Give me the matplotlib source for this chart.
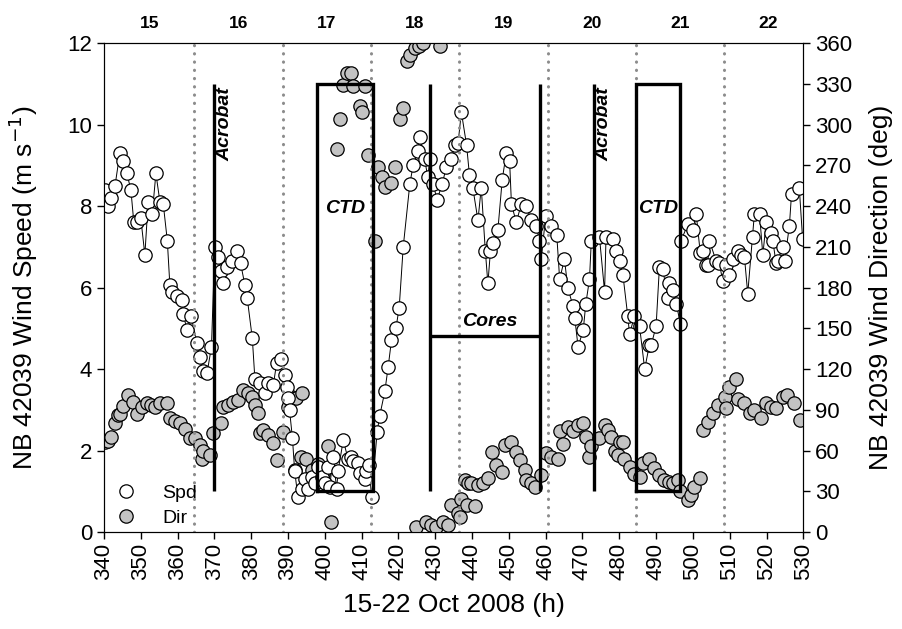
import matplotlib
matplotlib.use("Agg")
import matplotlib.pyplot as plt
from matplotlib.lines import Line2D

plt.rcParams["font.family"] = ["Liberation Sans", "DejaVu Sans"]

# Hourly wind speed at buoy NB 42039 (hour of October 2008, m/s)
spd_hour = [340.3, 341.0, 342.0, 343.0, 344.3, 345.2, 346.2, 347.3, 348.1, 348.9,
            350.0, 351.1, 352.0, 353.1, 354.1, 355.2, 356.1, 357.2, 357.9, 358.6,
            359.9, 361.1, 361.5, 362.6, 363.6, 365.3, 366.1, 367.0, 368.0, 369.2,
            370.1, 371.0, 371.9, 372.4, 373.3, 374.7, 376.0, 377.1, 378.3, 378.9,
            380.3, 381.0, 382.5, 383.7, 384.6, 386.0, 386.9, 388.2, 389.1, 389.6,
            390.0, 390.4, 391.2, 391.8, 392.7, 393.7, 394.6, 395.5, 396.4, 397.3,
            398.2, 399.1, 400.0, 400.9, 401.3, 402.3, 403.2, 403.6, 405.0, 406.3,
            407.0, 407.7, 409.0, 409.6, 410.8, 411.3, 412.0, 412.7, 414.2, 414.9,
            416.3, 417.2, 418.1, 419.3, 420.2, 421.3, 423.1, 424.0, 425.3, 425.8,
            427.1, 428.0, 428.5, 429.4, 430.5, 431.9, 433.0, 434.4, 435.3, 436.2,
            437.1, 438.5, 439.3, 440.2, 441.6, 442.5, 443.6, 444.3, 445.0, 445.7,
            447.0, 448.2, 449.3, 450.2, 450.7, 452.0, 453.4, 454.7, 456.1, 457.5,
            458.3, 458.8, 460.0, 461.5, 463.0, 463.8, 465.1, 466.0, 467.4, 467.9,
            468.8, 470.2, 470.9, 471.9, 472.4, 474.6, 476.0, 476.4, 478.2, 479.2,
            480.1, 481.0, 482.3, 482.8, 484.1, 485.5, 486.9, 488.2, 488.7, 490.0,
            490.9, 491.8, 493.2, 493.6, 494.5, 495.5, 496.6, 496.8, 498.6, 500.0,
            500.9, 502.0, 502.7, 503.6, 504.0, 504.5, 506.3, 507.2, 508.1, 509.0,
            509.9, 511.0, 512.2, 513.0, 514.0, 514.9, 516.2, 516.7, 518.1, 519.0,
            519.9, 521.2, 521.7, 522.6, 523.0, 524.4, 524.9, 526.2, 526.8, 528.9,
            529.8]
spd_value = [8.4, 8.0, 8.2, 8.5, 9.3, 9.1, 8.8, 8.4, 7.6, 7.6,
             7.7, 6.8, 8.1, 7.8, 8.8, 8.1, 8.05, 7.15, 6.05, 5.9,
             5.8, 5.7, 5.35, 4.95, 5.3, 4.65, 4.3, 3.95, 3.9, 4.55,
             7.0, 6.75, 6.4, 6.1, 6.5, 6.65, 6.9, 6.6, 6.05, 5.75,
             4.75, 3.75, 3.65, 3.4, 3.65, 3.6, 4.15, 4.25, 3.85, 3.55,
             3.3, 3.0, 2.3, 1.5, 0.85, 1.05, 1.3, 1.05, 1.35, 1.2,
             1.6, 1.35, 1.2, 1.6, 1.1, 1.85, 1.05, 1.5, 2.25, 1.8,
             1.85, 1.75, 1.7, 1.45, 1.3, 1.5, 1.65, 0.85, 2.45, 2.85,
             3.45, 4.05, 4.7, 5.0, 5.5, 7.0, 8.55, 9.0, 9.35, 9.7,
             9.15, 8.7, 9.15, 8.55, 8.15, 8.55, 8.95, 9.15, 9.5, 9.55,
             10.3, 9.5, 8.75, 8.45, 7.65, 8.45, 6.9, 6.1, 6.9, 7.1,
             7.4, 8.65, 9.3, 9.1, 8.05, 7.6, 8.05, 8.0, 7.65, 7.5,
             7.15, 6.7, 7.75, 7.5, 7.3, 6.2, 6.7, 6.0, 5.55, 5.25,
             4.55, 4.95, 5.6, 6.2, 7.15, 7.25, 5.9, 7.25, 7.2, 6.9,
             6.65, 6.3, 5.3, 4.85, 5.3, 5.05, 4.0, 4.6, 4.6, 5.05,
             6.5, 6.45, 5.75, 6.1, 5.95, 5.6, 5.1, 7.15, 7.55, 7.4,
             7.8, 6.85, 6.9, 6.55, 6.55, 7.15, 6.65, 6.6, 6.15, 6.55,
             6.3, 6.7, 6.9, 6.8, 6.75, 5.85, 7.25, 7.8, 7.8, 6.8,
             7.6, 7.35, 7.15, 6.6, 6.65, 7.0, 6.65, 7.5, 8.3, 8.45,
             7.2]

# Hourly wind direction at the same buoy (deg)
dir_hour = [340.3, 341.0, 342.0, 343.0, 343.8, 344.3, 345.2, 346.6, 348.0, 348.9,
            350.2, 351.6, 352.9, 353.8, 355.2, 357.0, 357.9, 359.3, 360.6, 362.0,
            363.3, 364.7, 366.1, 366.6, 367.0, 368.8, 369.7, 371.9, 372.4, 373.7,
            375.1, 376.5, 377.8, 379.2, 380.1, 381.0, 381.9, 382.4, 383.2, 384.6,
            386.0, 386.9, 388.7, 390.0, 391.0, 392.3, 393.7, 391.8, 393.5, 395.0,
            396.4, 397.3, 398.2, 399.5, 400.9, 401.8, 403.2, 404.1, 405.0, 405.9,
            407.2, 407.7, 409.5, 410.0, 410.8, 411.7, 413.6, 414.5, 415.4, 416.3,
            418.1, 419.0, 420.3, 421.2, 422.2, 423.1, 424.4, 425.5, 426.7, 431.2,
            424.7, 427.6, 428.9, 430.3, 432.1, 433.5, 434.4, 436.2, 436.6, 437.1,
            438.0, 438.5, 438.9, 439.8, 440.7, 441.6, 443.0, 444.3, 445.3, 446.6,
            448.0, 448.9, 450.7, 452.0, 453.0, 454.3, 454.7, 456.1, 457.0, 458.8,
            460.2, 461.5, 463.3, 463.8, 464.7, 466.0, 467.4, 468.8, 470.1, 471.0,
            471.9, 472.4, 474.6, 476.0, 476.9, 477.8, 478.7, 479.6, 480.1, 481.0,
            481.4, 482.8, 484.1, 485.5, 486.4, 488.2, 489.5, 490.9, 492.2, 493.6,
            494.5, 495.9, 496.4, 498.6, 499.6, 500.4, 501.8, 502.7, 504.1, 505.4,
            506.8, 508.6, 509.1, 509.9, 511.7, 512.2, 514.0, 515.4, 516.7, 518.5,
            519.9, 521.2, 522.6, 524.4, 525.7, 527.6, 529.0]
dir_value = [66, 67, 70, 80, 86, 87, 93, 101, 96, 87,
             92, 95, 93.5, 92, 95, 95, 84, 82, 80, 76,
             69, 69, 64, 54, 60, 57, 72.6, 80, 92, 93.5,
             96, 97, 104.5, 102, 99.6, 93.5, 87.4, 72.6, 75, 71.4,
             65.3, 53, 73.8, 92.2, 99.6, 98.4, 102, 45.6, 55.4, 54,
             45.6, 36, 50, 43, 63, 7.6, 282, 304, 329, 338,
             338, 328, 314, 309, 328, 277.5, 214, 269, 261.5, 254,
             256.6, 269, 304, 312, 347, 351, 356, 358, 360, 358,
             4, 7.6, 5, 4, 7.6, 5, 20, 14, 11, 24,
             38, 20, 36, 36, 19, 34.6, 35.8, 39.5, 59, 49,
             44, 64, 66.5, 59, 53, 45.6, 38, 36, 33, 42,
             58, 55, 54, 74, 65, 77.5, 74, 79, 80, 70,
             55.4, 63, 69, 79, 75, 70, 60, 57, 66.5, 66.5,
             54, 48, 43, 40.7, 50.6, 54, 47, 42, 38, 37,
             36, 38, 30, 23.6, 27, 33, 39.5, 75, 81, 87.4,
             93.5, 99.6, 91, 107, 113, 98, 94.7, 87.4, 90, 84,
             94.7, 92, 91, 99.6, 101, 94.7, 82.4]

# Local midnights and day-of-month labels
day_breaks = [364.5, 388.5, 412.5, 436.5, 460.5, 484.5, 508.5]
day_names = ["15", "16", "17", "18", "19", "20", "21", "22"]
day_centres = [352.5, 376.5, 400.5, 424.5, 448.5, 472.5, 496.5, 520.5]

# Sampling operations (hours) drawn in speed units
acrobat_hours = [370.0, 473.0]
ctd_windows = [(398.0, 413.0), (484.5, 496.5)]
cores_window = (428.5, 458.5)
cores_level = 4.8
op_bottom, op_top = 1.0, 11.0

fig = plt.figure(figsize=(9.02, 6.29), dpi=100)
ax = fig.add_axes([0.1153, 0.1542, 0.7753, 0.7774])
ax2 = ax.twinx()

ax.set_xlim(340, 530)
ax.set_ylim(0, 12)
ax2.set_ylim(0, 360)

# day boundaries
for d in day_breaks:
    ax.plot([d, d], [0, 12], color="#8c8c8c", lw=2.2,
            linestyle=(0, (0.1, 2.6)), dash_capstyle="round", zorder=1)
for c, n in zip(day_centres, day_names):
    ax.text(c, 12.3, n, ha="center", va="bottom", fontsize=12.5,
            fontweight="bold")

# operations
for h in acrobat_hours:
    ax.plot([h, h], [op_bottom, op_top], color="black", lw=2.4, zorder=2,
            solid_capstyle="butt")
for a, b in ctd_windows:
    ax.plot([a, a, b, b, a], [op_bottom, op_top, op_top, op_bottom, op_bottom],
            color="black", lw=2.4, zorder=2, solid_joinstyle="miter")
ax.plot([cores_window[0]] * 2, [op_bottom, op_top], color="black", lw=2.4,
        zorder=2, solid_capstyle="butt")
ax.plot([cores_window[1]] * 2, [op_bottom, op_top], color="black", lw=2.4,
        zorder=2, solid_capstyle="butt")
ax.plot(list(cores_window), [cores_level] * 2, color="black", lw=2.4, zorder=2,
        solid_capstyle="butt")

lab = dict(fontsize=14, fontweight="bold", fontstyle="italic", zorder=6)
for h in acrobat_hours:
    ax.text(h + 2.9, 10.0, "Acrobat", rotation=90, ha="center", va="center", **lab)
for a, b in ctd_windows:
    ax.text((a + b) / 2, 7.95, "CTD", ha="center", va="center", **lab)
ax.text(sum(cores_window) / 2 + 1.3, 5.16, "Cores", ha="center", va="center", **lab)

# data
ax2.plot(dir_hour, dir_value, linestyle="none", marker="o", ms=9.6,
         mfc="#c3c3c3", mec="black", mew=0.9, zorder=3)
ax2.plot(spd_hour, [v * 30 for v in spd_value], color="black", lw=0.7,
         marker="o", ms=9.6, mfc="white", mec="black", mew=0.9, zorder=4)

ax.set_zorder(ax2.get_zorder() + 1)
ax.patch.set_visible(False)

ax.set_xticks(range(340, 531, 10))
ax.set_xticklabels([str(v) for v in range(340, 531, 10)], rotation=90)
ax.set_yticks(range(0, 13, 2))
ax2.set_yticks(range(0, 361, 30))
for a in (ax, ax2):
    a.tick_params(direction="out", length=5, width=1, labelsize=16)
ax.tick_params(axis="x", pad=3)

ax.set_xlabel("15-22 Oct 2008 (h)", fontsize=19, labelpad=9)
ax.set_ylabel("NB 42039 Wind Speed (m s$^{-1}$)", fontsize=19, labelpad=20)
ax2.set_ylabel("NB 42039 Wind Direction (deg)", fontsize=19, labelpad=12)

handles = [Line2D([], [], linestyle="none", marker="o", ms=9.6, mfc="white",
                  mec="black", mew=0.9),
           Line2D([], [], linestyle="none", marker="o", ms=9.6, mfc="#c3c3c3",
                  mec="black", mew=0.9)]
ax.legend(handles, ["Spd", "Dir"], loc="lower left", bbox_to_anchor=(-0.008, -0.005),
          frameon=False, fontsize=14, handletextpad=0.9, labelspacing=0.35,
          borderaxespad=0)

fig.savefig("out.png", dpi=100)
